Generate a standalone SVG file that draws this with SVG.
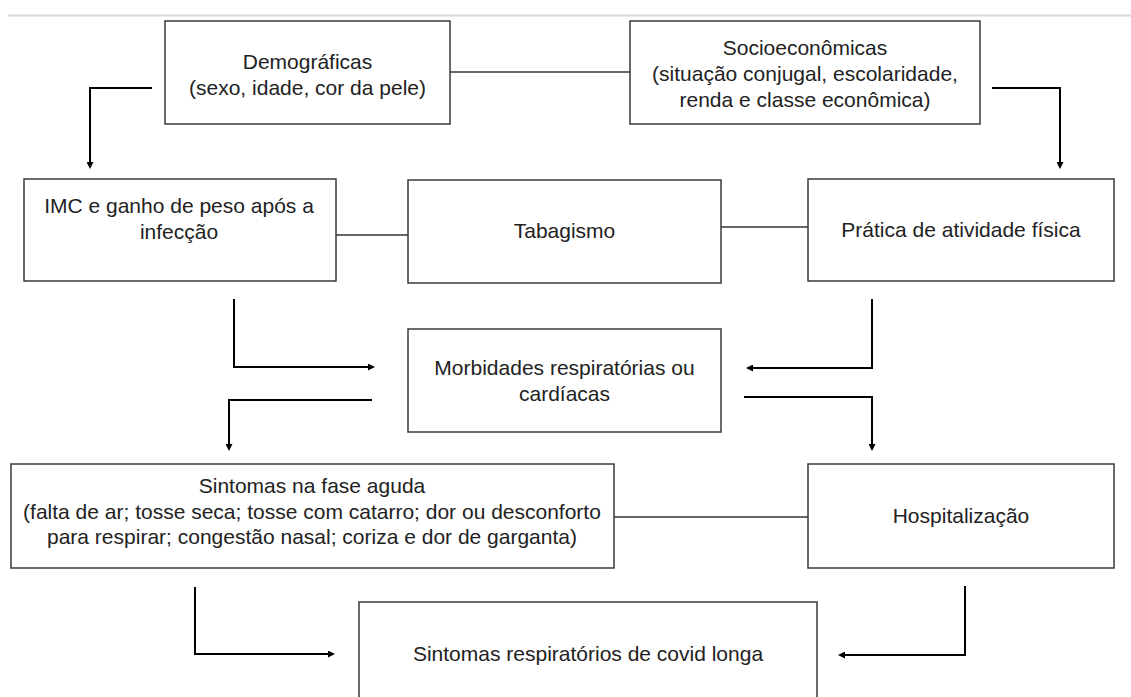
<svg xmlns="http://www.w3.org/2000/svg" width="1131" height="697" viewBox="0 0 1131 697">
  <style>
    .box { fill: #ffffff; stroke: #3a3a3a; stroke-width: 1.5; }
    .t { font-family: "Liberation Sans", Arial, sans-serif; font-size: 21px; fill: #222222; text-anchor: middle; }
    .link { fill: none; stroke: #333333; stroke-width: 1.3; }
    .arrow { fill: none; stroke: #000000; stroke-width: 2; marker-end: url(#ah); }
  </style>
  <defs>
    <marker id="ah" viewBox="0 0 10 10" refX="0" refY="5" markerWidth="8" markerHeight="7" orient="auto" markerUnits="userSpaceOnUse">
      <path d="M0,0 L10,5 L0,10 z" fill="#000000"/>
    </marker>
  </defs>
  <rect x="0" y="0" width="1131" height="697" fill="#ffffff"/>
  <line x1="8" y1="15.5" x2="1131" y2="15.5" stroke="#dadada" stroke-width="2"/>

  <g id="connectors">
    <line class="link" x1="450" y1="72" x2="630" y2="72"/>
    <line class="link" x1="336" y1="235" x2="408" y2="235"/>
    <line class="link" x1="721" y1="227" x2="808" y2="227"/>
    <line class="link" x1="614" y1="517" x2="808" y2="517"/>
    <path class="arrow" d="M152,88 H90 V162"/>
    <path class="arrow" d="M992,88 H1060 V162"/>
    <path class="arrow" d="M234,299 V367 H368"/>
    <path class="arrow" d="M872,299 V368 H753"/>
    <path class="arrow" d="M372,400 H229 V444"/>
    <path class="arrow" d="M744,397 H872 V444"/>
    <path class="arrow" d="M195,587 V654 H328"/>
    <path class="arrow" d="M965,586 V655 H845"/>
  </g>

  <g id="demograficas">
    <rect class="box" x="165" y="21" width="285" height="103"/>
    <text class="t" x="307.5" y="69">Demográficas</text>
    <text class="t" x="307.5" y="95">(sexo, idade, cor da pele)</text>
  </g>
  <g id="socioeconomicas">
    <rect class="box" x="630" y="21" width="350" height="103"/>
    <text class="t" x="805" y="55">Socioeconômicas</text>
    <text class="t" x="805" y="81">(situação conjugal, escolaridade,</text>
    <text class="t" x="805" y="107">renda e classe econômica)</text>
  </g>
  <g id="imc">
    <rect class="box" x="24" y="179" width="312" height="102"/>
    <text class="t" x="179" y="213">IMC e ganho de peso após a</text>
    <text class="t" x="179" y="239">infecção</text>
  </g>
  <g id="tabagismo">
    <rect class="box" x="408" y="180" width="313" height="103"/>
    <text class="t" x="564.5" y="238">Tabagismo</text>
  </g>
  <g id="pratica">
    <rect class="box" x="808" y="179" width="306" height="102"/>
    <text class="t" x="961" y="237">Prática de atividade física</text>
  </g>
  <g id="morbidades">
    <rect class="box" x="408" y="329" width="313" height="103"/>
    <text class="t" x="564.5" y="375">Morbidades respiratórias ou</text>
    <text class="t" x="564.5" y="401">cardíacas</text>
  </g>
  <g id="sintomas-aguda">
    <rect class="box" x="11" y="464" width="603" height="104"/>
    <text class="t" x="312" y="493">Sintomas na fase aguda</text>
    <text class="t" x="312" y="519">(falta de ar; tosse seca; tosse com catarro; dor ou desconforto</text>
    <text class="t" x="312" y="544">para respirar; congestão nasal; coriza e dor de garganta)</text>
  </g>
  <g id="hospitalizacao">
    <rect class="box" x="808" y="464" width="306" height="104"/>
    <text class="t" x="961" y="523">Hospitalização</text>
  </g>
  <g id="covid-longa">
    <rect class="box" x="359" y="602" width="458" height="110"/>
    <text class="t" x="588" y="661">Sintomas respiratórios de covid longa</text>
  </g>
</svg>
